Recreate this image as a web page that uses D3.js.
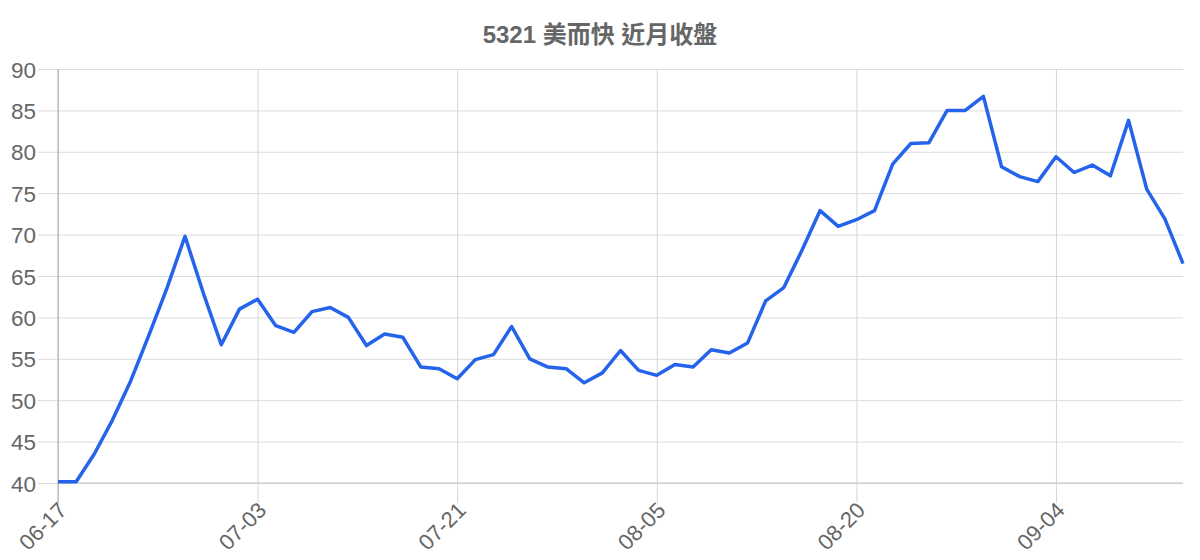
<!DOCTYPE html>
<html>
<head>
<meta charset="utf-8">
<script src="https://cdn.jsdelivr.net/npm/d3@7"></script>
<style>
  body { margin: 0; background: #fff; }
  svg { display: block; font-family: "Liberation Sans", "Noto Sans CJK TC", sans-serif; }
</style>
</head>
<body>
<div id="chart"></div>
<script>
// closing prices, one per trading day
const dates = [
  '06-17', '06-18', '06-19', '06-23', '06-24', '06-25', '06-26', '06-27', '06-30', '07-01', '07-02',
  '07-03', '07-04', '07-08', '07-09', '07-10', '07-11', '07-14', '07-15', '07-16', '07-17', '07-18',
  '07-21', '07-22', '07-23', '07-24', '07-25', '07-28', '07-29', '07-30', '07-31', '08-01', '08-04',
  '08-05', '08-06', '08-07', '08-08', '08-11', '08-12', '08-13', '08-14', '08-15', '08-18', '08-19',
  '08-20', '08-21', '08-22', '08-25', '08-26', '08-27', '08-28', '08-29', '09-01', '09-02', '09-03',
  '09-04', '09-05', '09-08', '09-09', '09-10', '09-11', '09-12', '09-15'
]
const closes = [
  40.15, 40.15, 43.5, 47.6, 52.3, 57.8, 63.5, 69.8, 63.0, 56.7, 61.0,
  62.2, 59.0, 58.2, 60.7, 61.2, 60.0, 56.6, 58.0, 57.6, 54.0, 53.8,
  52.6, 54.9, 55.5, 58.9, 55.0, 54.0, 53.8, 52.1, 53.3, 56.0, 53.6,
  53.0, 54.3, 54.0, 56.1, 55.7, 56.9, 62.0, 63.6, 68.1, 72.9, 71.0,
  71.8, 72.9, 78.5, 81.0, 81.1, 85.0, 85.0, 86.7, 78.2, 77.0, 76.4,
  79.4, 77.5, 78.4, 77.1, 83.8, 75.5, 71.9, 66.5
]
const xTickLabels = ['06-17', '07-03', '07-21', '08-05', '08-20', '09-04']
const yTicks = [40, 45, 50, 55, 60, 65, 70, 75, 80, 85, 90]
const title = '5321 美而快 近月收盤'

const width = 1200
const height = 560
const plot = { left: 58, right: 1183, top: 69, bottom: 483 }
const tickLen = 20

const svg = d3.select('#chart').append('svg')
  .attr('width', width)
  .attr('height', height)

const x = d3.scalePoint()
  .domain(dates)
  .range([plot.left, plot.right])

const y = d3.scaleLinear()
  .domain([40, 90])
  .range([plot.bottom, plot.top])

// horizontal grid + y labels
const yAxis = svg.append('g')
  .attr('transform', `translate(${plot.right}, 0)`)
  .call(d3.axisLeft(y)
    .tickValues(yTicks)
    .tickSize(plot.right - plot.left + tickLen)
    .tickPadding(2)
  )
yAxis.select('.domain').remove()
yAxis.selectAll('.tick line').attr('stroke', '#dcdcdc').attr('stroke-width', 1)
yAxis.selectAll('.tick text')
  .attr('fill', '#666')
  .style('font-size', '22.5px')
  .attr('dy', '0.36em')

// vertical grid + x labels
const xAxis = svg.append('g')
  .attr('transform', `translate(0, ${plot.top})`)
  .call(d3.axisBottom(x)
    .tickValues(xTickLabels)
    .tickSize(plot.bottom - plot.top + tickLen)
    .tickFormat(d => d)
  )
xAxis.select('.domain').remove()
xAxis.selectAll('.tick line').attr('stroke', '#d6d6d6').attr('stroke-width', 1)
xAxis.selectAll('.tick text')
  .attr('fill', '#666')
  .style('font-size', '22px')
  .attr('text-anchor', 'end')
  .attr('y', 0)
  .attr('dy', '0.36em')
  .attr('transform', `translate(4, ${plot.bottom - plot.top + tickLen + 3}) rotate(-45)`)

// axis borders
svg.append('line')
  .attr('x1', plot.left).attr('x2', plot.right)
  .attr('y1', plot.bottom).attr('y2', plot.bottom)
  .attr('stroke', '#c4c4c4')
svg.append('line')
  .attr('x1', plot.left).attr('x2', plot.left)
  .attr('y1', plot.top).attr('y2', plot.bottom + tickLen)
  .attr('stroke', '#a8a8a8')

// price line
const line = d3.line()
  .x((d, i) => x(dates[i]))
  .y(d => y(d))

svg.append('path')
  .datum(closes)
  .attr('fill', 'none')
  .attr('stroke', '#2563eb')
  .attr('stroke-width', 3.5)
  .attr('stroke-linejoin', 'round')
  .attr('d', line)

svg.append('text')
  .attr('x', 600)
  .attr('y', 43)
  .attr('text-anchor', 'middle')
  .attr('fill', '#666')
  .style('font-size', '24px')
  .style('font-weight', 'bold')
  .text(title)
</script>
</body>
</html>
